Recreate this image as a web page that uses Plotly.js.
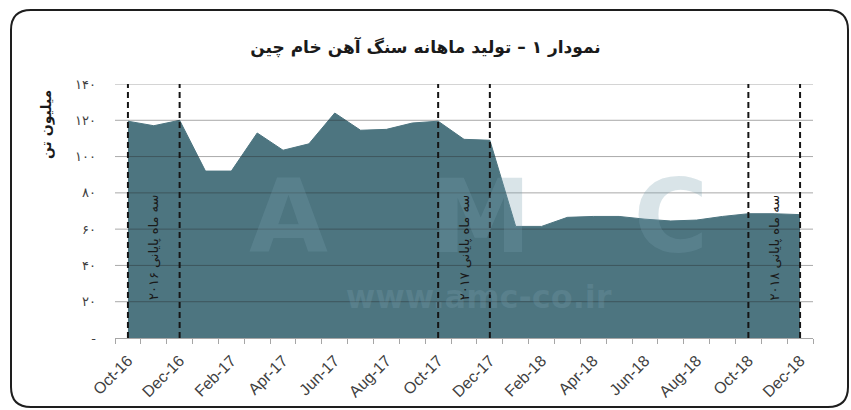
<!DOCTYPE html>
<html>
<head>
<meta charset="utf-8">
<script src="https://cdn.plot.ly/plotly-3.0.1.min.js"></script>
<style>html,body{margin:0;padding:0;background:#fff;}#chart{width:851px;height:410px;}</style>
</head>
<body>
<div id="chart"></div>
<script>
// ---- data ----
const months = ['Oct-16','Nov-16','Dec-16','Jan-17','Feb-17','Mar-17','Apr-17','May-17','Jun-17','Jul-17','Aug-17','Sep-17','Oct-17','Nov-17','Dec-17','Jan-18','Feb-18','Mar-18','Apr-18','May-18','Jun-18','Jul-18','Aug-18','Sep-18','Oct-18','Nov-18','Dec-18'];
const production = [119.5, 117, 120, 92, 92, 113, 103.5, 107, 124, 114.5, 115, 118.5, 119.5, 109.5, 109, 61.5, 61.5, 66.5, 67, 67, 65.5, 64.5, 65, 67, 68.5, 68.5, 68];
const quarterStarts = ['Oct-16','Oct-17','Oct-18'];
const quarterEnds = ['Dec-16','Dec-17','Dec-18'];
const quarterLabels = ['سه ماه پایانی ۲۰۱۶','سه ماه پایانی ۲۰۱۷','سه ماه پایانی ۲۰۱۸'];
const yTickVals = [0,20,40,60,80,100,120,140];
const yTickText = ['-','۲۰','۴۰','۶۰','۸۰','۱۰۰','۱۲۰','۱۴۰'];
const chartTitle = 'نمودار ۱ – تولید ماهانه سنگ آهن خام چین';
const yTitle = 'میلیون تن';
const watermarkBig = 'A\u2003M\u2003C';
const watermarkSmall = 'www.amc-co.ir';

// ---- geometry helpers (decoration only) ----
const W = 851, H = 410, ML = 115, MR = 38, MT = 84, MB = 72;
const PW = W - ML - MR, PH = H - MT - MB;
const PX = p => (p - ML) / PW;
const PY = p => (H - MB - p) / PH;

const idx = m => months.indexOf(m);
const xs = months.map((m, i) => i);
const tickIdx = xs.filter(i => i % 2 === 0);

const shapes = [];
// rounded frame
(function(){
  const l=11, r=848, t=10, b=407, rad=20;
  const path = `M ${PX(l+rad)} ${PY(t)} L ${PX(r-rad)} ${PY(t)} Q ${PX(r)} ${PY(t)} ${PX(r)} ${PY(t+rad)} L ${PX(r)} ${PY(b-rad)} Q ${PX(r)} ${PY(b)} ${PX(r-rad)} ${PY(b)} L ${PX(l+rad)} ${PY(b)} Q ${PX(l)} ${PY(b)} ${PX(l)} ${PY(b-rad)} L ${PX(l)} ${PY(t+rad)} Q ${PX(l)} ${PY(t)} ${PX(l+rad)} ${PY(t)} Z`;
  shapes.push({type:'path', xref:'paper', yref:'paper', path, line:{color:'#1e1e1e', width:2}, layer:'below'});
})();
// gridlines above the area
yTickVals.filter(v => v > 0).forEach(v => shapes.push({type:'line', xref:'paper', x0:0, x1:1, yref:'y', y0:v, y1:v, line:{color:'rgba(40,40,40,0.4)', width:1}, layer:'above'}));
// dashed quarter markers
quarterStarts.concat(quarterEnds).forEach(m => shapes.push({type:'line', xref:'x', x0:idx(m), x1:idx(m), yref:'y', y0:0, y1:yTickVals[yTickVals.length-1], line:{color:'#151515', width:2, dash:'6px,4px'}, layer:'above'}));

const wm = 'rgba(120,158,172,0.28)';
const annotations = [
  // watermark (single text block, two lines)
  {text:`<span style="font-size:102px">${watermarkBig}</span><br><span style="font-size:32px">${watermarkSmall}</span>`, xref:'paper', yref:'paper', x:PX(478), y:PY(236), xanchor:'center', yanchor:'middle', showarrow:false,
   font:{family:'DejaVu Sans', size:43, color:wm, weight:'bold'}},
  // y title
  {text:yTitle, xref:'paper', yref:'paper', x:PX(46), y:PY(125), xanchor:'center', yanchor:'middle', showarrow:false, textangle:-90,
   font:{family:'DejaVu Sans', size:14, color:'#1a1a1a', weight:'bold'}}
];
quarterLabels.forEach((t, k) => annotations.push({
  text:t, xref:'x', yref:'y', x:(idx(quarterStarts[k]) + idx(quarterEnds[k]))/2, y:50, xanchor:'center', yanchor:'middle', showarrow:false, textangle:-90,
  font:{family:'DejaVu Sans', size:13, color:'#1a1a1a'}
}));

const trace = {
  x: xs, y: production, type:'scatter', mode:'lines', fill:'tozeroy',
  fillcolor:'#4d7580', line:{color:'#4d7580', width:1}, hoverinfo:'skip'
};

const layout = {
  width:W, height:H, margin:{l:ML, r:MR, t:MT, b:MB, pad:0},
  paper_bgcolor:'#ffffff', plot_bgcolor:'#ffffff', showlegend:false,
  title:{text:chartTitle, xref:'container', x:0.5, xanchor:'center', yref:'container', y:1-47/H, yanchor:'middle',
    font:{family:'DejaVu Sans', size:17, color:'#1a1a1a', weight:'bold'}},
  xaxis:{range:[-0.5, xs.length-0.5], tickmode:'array', tickvals:tickIdx, ticktext:tickIdx.map(i => months[i]),
    tickangle:-45, ticks:'', ticklabelstandoff:6, showgrid:false, zeroline:false, showline:true, linecolor:'#a6a6a6', linewidth:1,
    tickfont:{family:'Liberation Sans', size:16, color:'#404040'},
    minor:{tickmode:'linear', tick0:-0.5, dtick:1, ticks:'outside', ticklen:5, tickcolor:'#a6a6a6', showgrid:false}},
  yaxis:{range:[0,140], tickmode:'array', tickvals:yTickVals, ticktext:yTickText, ticks:'', showgrid:false, zeroline:false, showline:false,
    ticklabelstandoff:18, tickfont:{family:'DejaVu Sans', size:13, color:'#404040'}},
  shapes, annotations
};
Plotly.newPlot('chart', [trace], layout, {displayModeBar:false, staticPlot:true});
</script>
</body>
</html>
